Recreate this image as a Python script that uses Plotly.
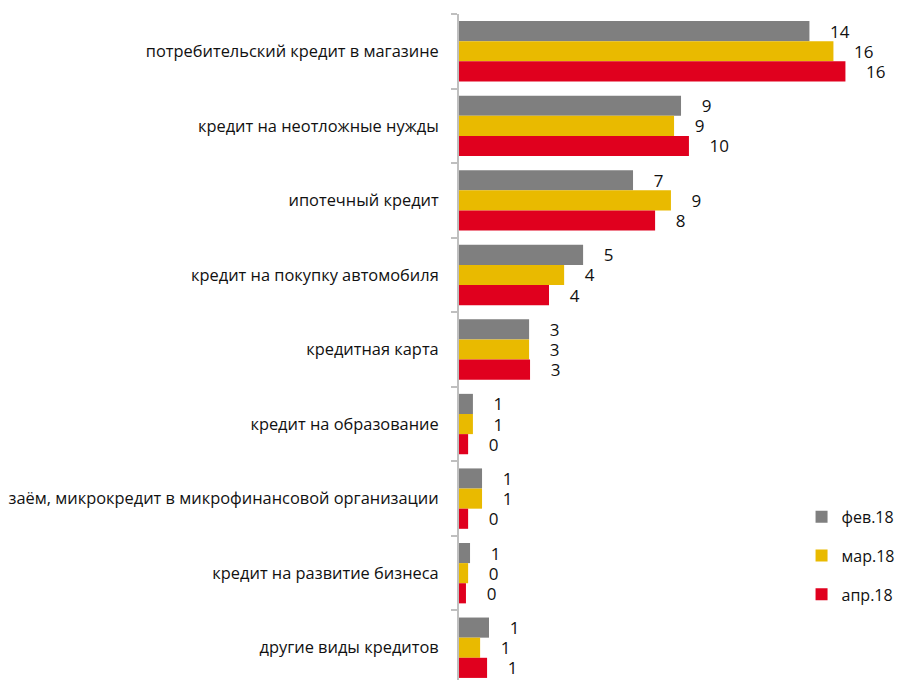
"""Horizontal grouped bar chart: types of loans, Feb-Apr 2018."""

import plotly.graph_objects as go

categories = [
    'потребительский кредит в магазине',
    'кредит на неотложные нужды',
    'ипотечный кредит',
    'кредит на покупку автомобиля',
    'кредитная карта',
    'кредит на образование',
    'заём, микрокредит в микрофинансовой организации',
    'кредит на развитие бизнеса',
    'другие виды кредитов',
]

series_names = ['фев.18', 'мар.18', 'апр.18']

# bar lengths
feb_values = [14.6, 9.25, 7.25, 5.17, 2.92, 0.58, 0.96, 0.46, 1.25]
mar_values = [15.6, 8.96, 8.83, 4.38, 2.92, 0.58, 0.96, 0.38, 0.88]
apr_values = [16.1, 9.58, 8.17, 3.75, 2.96, 0.38, 0.38, 0.29, 1.17]

# printed labels
feb_labels = ['14', '9', '7', '5', '3', '1', '1', '1', '1']
mar_labels = ['16', '9', '9', '4', '3', '1', '1', '0', '1']
apr_labels = ['16', '10', '8', '4', '3', '0', '0', '0', '1']

colors = ['#7F7F7F', '#E9BA00', '#E0001E']
FONT = 'Open Sans'

fig = go.Figure()

for i, (name, vals, labels) in enumerate(zip(
        series_names,
        [feb_values, mar_values, apr_values],
        [feb_labels, mar_labels, apr_labels])):
    fig.add_trace(go.Bar(
        y=categories,
        x=vals,
        name=name,
        orientation='h',
        marker=dict(color=colors[i], line=dict(width=0)),
        text=['\u00a0\u00a0\u00a0\u00a0' + t for t in labels],
        textposition='outside',
        constraintext='none',
        cliponaxis=False,
        textfont=dict(family=FONT, size=17, color='#111111'),
        legendgroup=name,
        hoverinfo='skip',
    ))

# page body has an 8px margin, so the figure is offset by (8, 8)
fig.update_layout(
    width=904,
    height=680,
    margin=dict(l=451, r=8, t=6, b=3, autoexpand=False),
    barmode='group',
    bargap=0.19,
    bargroupgap=0,
    plot_bgcolor='white',
    paper_bgcolor='white',
    font=dict(family=FONT, size=16, color='#111111'),
    xaxis=dict(
        range=[0, 18.54],
        visible=False,
    ),
    yaxis=dict(
        autorange='reversed',
        showline=True,
        linecolor='#BFBFBF',
        linewidth=2,
        ticks='outside',
        tickson='boundaries',
        ticklen=6,
        tickwidth=2,
        tickcolor='#BFBFBF',
        ticklabelstandoff=15,
        showgrid=False,
        automargin=False,
        tickfont=dict(family=FONT, size=16.4, color='#111111'),
    ),
    legend=dict(
        x=0.99,
        y=0.276,
        xanchor='right',
        yanchor='top',
        font=dict(family=FONT, size=16, color='#111111'),
        tracegroupgap=15,
        itemwidth=30,
        bgcolor='rgba(0,0,0,0)',
    ),
)

fig.write_html("out.html")
